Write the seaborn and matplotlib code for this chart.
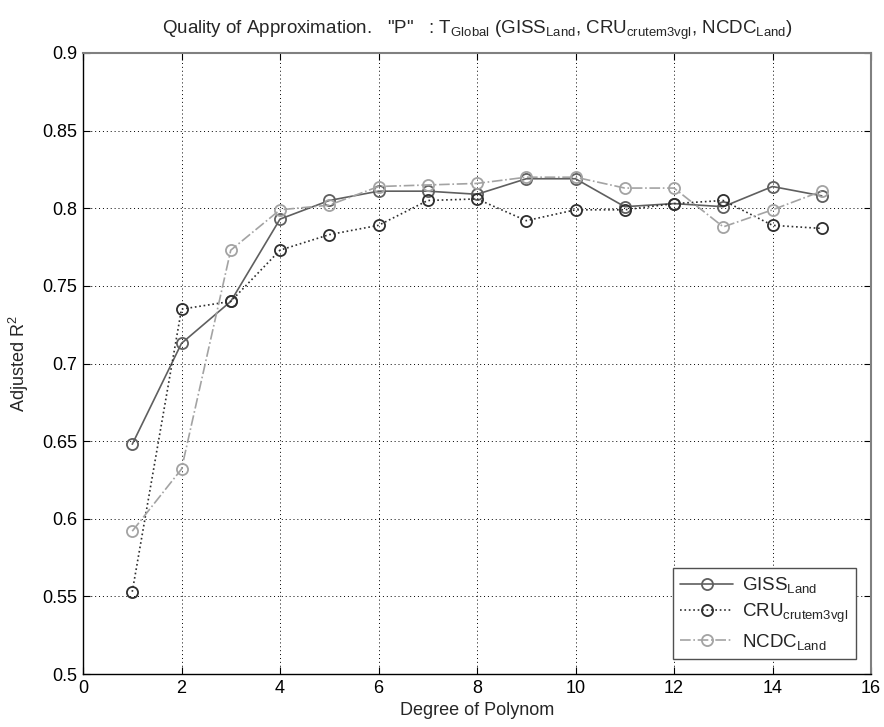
import matplotlib
matplotlib.use("Agg")
import matplotlib.pyplot as plt
import seaborn as sns
import pandas as pd

# Polynomial degree and adjusted R^2 for each land temperature dataset
degrees = list(range(1, 16))
giss_land = [0.648, 0.713, 0.740, 0.793, 0.805, 0.811, 0.811, 0.809, 0.819, 0.819,
             0.801, 0.803, 0.801, 0.814, 0.808]
cru_crutem3vgl = [0.553, 0.735, 0.740, 0.773, 0.783, 0.789, 0.805, 0.806, 0.792, 0.799,
                  0.799, 0.803, 0.805, 0.789, 0.787]
ncdc_land = [0.592, 0.632, 0.773, 0.799, 0.802, 0.814, 0.815, 0.816, 0.820, 0.820,
             0.813, 0.813, 0.788, 0.799, 0.811]

series_labels = [r"GISS$_{\mathrm{Land}}$", r"CRU$_{\mathrm{crutem3vgl}}$", r"NCDC$_{\mathrm{Land}}$"]
x_ticks = [0, 2, 4, 6, 8, 10, 12, 14, 16]
y_ticks = [0.5, 0.55, 0.6, 0.65, 0.7, 0.75, 0.8, 0.85, 0.9]
y_tick_labels = ["0.5", "0.55", "0.6", "0.65", "0.7", "0.75", "0.8", "0.85", "0.9"]

sns.set_theme(style="white")
plt.rcParams["font.family"] = ["Liberation Sans", "DejaVu Sans"]
plt.rcParams["mathtext.fontset"] = "custom"
plt.rcParams["mathtext.rm"] = "Liberation Sans"
plt.rcParams["mathtext.it"] = "Liberation Sans"
plt.rcParams["mathtext.default"] = "regular"

fig = plt.figure(figsize=(8.84, 7.27), dpi=100)
ax = fig.add_axes([0.0939, 0.0729, 0.8914, 0.8542])

styles = [
    dict(color="#5f5f5f", linestyle="-"),
    dict(color="#2e2e2e", linestyle=":"),
    dict(color="#a3a3a3", linestyle="-."),
]
for values, label, st in zip([giss_land, cru_crutem3vgl, ncdc_land], series_labels, styles):
    df = pd.DataFrame({"degree": degrees, "r2": values})
    sns.lineplot(data=df, x="degree", y="r2", ax=ax, label=label,
                 color=st["color"], linestyle=st["linestyle"], linewidth=1.2,
                 marker="o", markersize=8, markerfacecolor="none",
                 markeredgecolor=st["color"], markeredgewidth=1.3)

ax.set_xlim(0, 16)
ax.set_ylim(0.5, 0.9)
ax.set_xticks(x_ticks)
ax.set_xticklabels([str(t) for t in x_ticks])
ax.set_yticks(y_ticks)
ax.set_yticklabels(y_tick_labels)
ax.tick_params(axis="both", direction="in", length=5, width=0.8, labelsize=13,
               colors="black", pad=4, top=True, right=True, bottom=True, left=True)
ax.grid(True, linestyle=(0, (1, 3)), color="black", linewidth=0.7)
for side in ["left", "bottom"]:
    ax.spines[side].set_color("black")
    ax.spines[side].set_linewidth(1.0)
for side in ["top", "right"]:
    ax.spines[side].set_color("#808080")
    ax.spines[side].set_linewidth(1.5)

ax.set_xlabel("Degree of Polynom", fontsize=13, labelpad=4)
ax.set_ylabel(r"Adjusted R$^{2}$", fontsize=13, labelpad=8)
ax.set_title(r'Quality of Approximation.   "P"   : T$_{\mathrm{Global}}$ (GISS$_{\mathrm{Land}}$, '
             r'CRU$_{\mathrm{crutem3vgl}}$, NCDC$_{\mathrm{Land}}$)', fontsize=13.5, pad=14)

leg = ax.legend(loc="lower right", fontsize=13.5, frameon=True, fancybox=False,
                edgecolor="#505050", framealpha=1, handlelength=2.8, handletextpad=0.5,
                borderaxespad=0.8, labelspacing=0.35, borderpad=0.4)
leg.get_frame().set_linewidth(1.0)

fig.savefig("out.png", dpi=100, facecolor="white")
